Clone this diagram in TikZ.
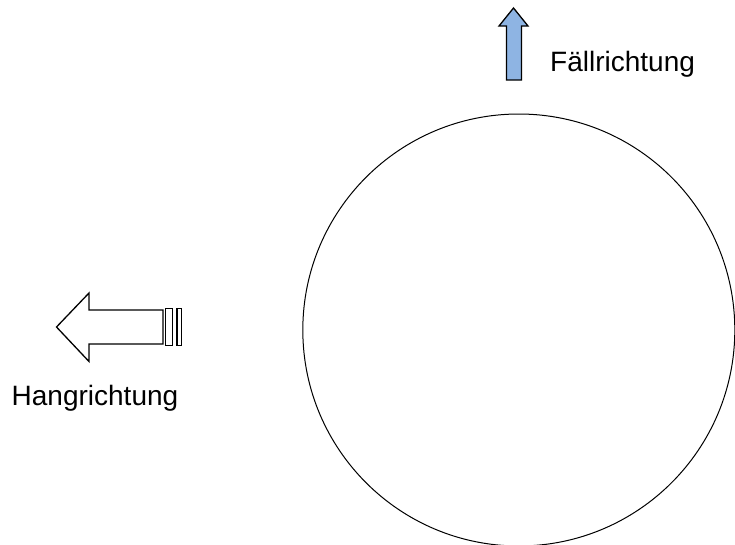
\documentclass[tikz,border=0pt]{standalone}
\usepackage{fontspec}
\setmainfont{Liberation Sans}
\begin{document}
\begin{tikzpicture}[x=1pt,y=-1pt,
  outline/.style={draw=black,line width=1.3pt,line join=miter},
  lbl/.style={inner sep=0pt,anchor=base west,font=\fontsize{28}{32}\selectfont}]
\useasboundingbox (0,0) rectangle (735,544);
\clip (0,0) rectangle (735,544);
% circle
\draw[line width=1pt] (518.8,330) circle[radius=216];
% up arrow (Fallrichtung)
\draw[outline,fill={rgb,255:red,142;green,180;blue,227}]
  (513.5,8) -- (528,26) -- (521.5,26) -- (521.5,80) -- (506.5,80) -- (506.5,26) -- (499,26) -- cycle;
\node[lbl] (f) at (550,71.7) {Fällrichtung};
% striped left arrow (Hangrichtung)
\draw[outline,fill=white]
  (56.5,327) -- (89,293) -- (89,310) -- (163,310) -- (163,344) -- (89,344) -- (89,361.5) -- cycle;
\draw[outline,fill=white] (165.5,308.5) rectangle (172.5,345.5);
\draw[outline,fill=white] (177,308.5) rectangle (181.5,345.5);
\node[lbl] (h) at (11.5,405) {Hangrichtung};
\end{tikzpicture}
\end{document}
